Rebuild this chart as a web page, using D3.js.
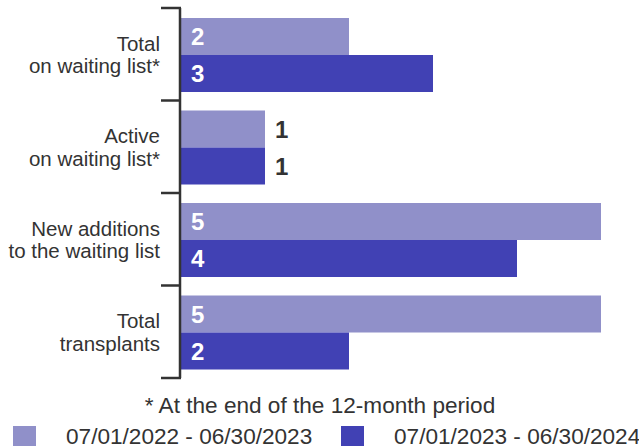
<!DOCTYPE html>
<html>
<head>
<meta charset="utf-8">
<script src="https://cdn.jsdelivr.net/npm/d3@7"></script>
<style>
  body { margin: 0; background: #fff; }
  svg { display: block; font-family: "Liberation Sans", Arial, sans-serif; }
</style>
</head>
<body>
<div id="chart"></div>
<script>
// chart data
const categories = [
    ['Total', 'on waiting list*'],
    ['Active', 'on waiting list*'],
    ['New additions', 'to the waiting list'],
    ['Total', 'transplants']
];
const seriesNames = ['07/01/2022 - 06/30/2023', '07/01/2023 - 06/30/2024'];
const period1 = [2, 1, 5, 5];
const period2 = [3, 1, 4, 2];
const footnote = '* At the end of the 12-month period';

const colors = ['#9090c9', '#4141b4'];
const textColor = '#333333';

const width = 639, height = 448;
const svg = d3.select('#chart').append('svg')
    .attr('width', width)
    .attr('height', height);

const catKeys = categories.map((c, i) => i);

const y0 = d3.scaleBand()
    .domain(catKeys)
    .range([8, 378]);

const y1 = d3.scaleBand()
    .domain([0, 1])
    .range([10, y0.bandwidth() - 8.5]);

const x = d3.scaleLinear()
    .domain([0, 5])
    .range([181, 601]);

const values = [period1, period2];

// bars
const groups = svg.selectAll('g.cat')
    .data(catKeys)
    .enter().append('g')
    .attr('class', 'cat')
    .attr('transform', d => `translate(0,${y0(d)})`);

groups.each(function(ci) {
    const g = d3.select(this);
    values.forEach((vals, si) => {
        const v = vals[ci];
        g.append('rect')
            .attr('x', x(0))
            .attr('y', y1(si))
            .attr('width', x(v) - x(0))
            .attr('height', y1.bandwidth())
            .attr('fill', colors[si]);

        const inside = (x(v) - x(0)) > 120;
        g.append('text')
            .attr('x', inside ? x(0) + 10 : x(v) + 10)
            .attr('y', y1(si) + y1.bandwidth() / 2)
            .attr('dy', '0.36em')
            .attr('font-size', 24)
            .attr('font-weight', 'bold')
            .attr('fill', inside ? '#ffffff' : textColor)
            .text(v);
    });

    // category label
    const mid = y0.bandwidth() / 2;
    const lbl = g.append('text')
        .attr('text-anchor', 'end')
        .attr('font-size', 20.5)
        .attr('fill', textColor);
    lbl.append('tspan').attr('x', 160).attr('y', mid - 3.5).text(categories[ci][0]);
    lbl.append('tspan').attr('x', 160).attr('y', mid + 19).text(categories[ci][1]);
});

// axis: vertical line with ticks at the band edges
const edges = catKeys.map(d => y0(d)).concat([y0.range()[1]]);
const axis = svg.append('g').attr('stroke', textColor).attr('stroke-width', 2.5);
axis.append('line')
    .attr('x1', 180).attr('x2', 180)
    .attr('y1', edges[0]).attr('y2', edges[edges.length - 1]);
axis.selectAll('line.tick')
    .data(edges)
    .enter().append('line')
    .attr('class', 'tick')
    .attr('x1', 161).attr('x2', 181)
    .attr('y1', d => d).attr('y2', d => d);

// footnote
svg.append('text')
    .attr('x', 320)
    .attr('y', 413)
    .attr('text-anchor', 'middle')
    .attr('font-size', 22.6)
    .attr('fill', textColor)
    .text(footnote);

// legend
const legendX = [13, 341];
seriesNames.forEach((name, i) => {
    const lg = svg.append('g').attr('transform', `translate(${legendX[i]},426)`);
    lg.append('rect')
        .attr('width', 23)
        .attr('height', 20)
        .attr('fill', colors[i]);
    lg.append('text')
        .attr('x', 53)
        .attr('y', 18)
        .attr('font-size', 22.6)
        .attr('fill', textColor)
        .text(name);
});
</script>
</body>
</html>
